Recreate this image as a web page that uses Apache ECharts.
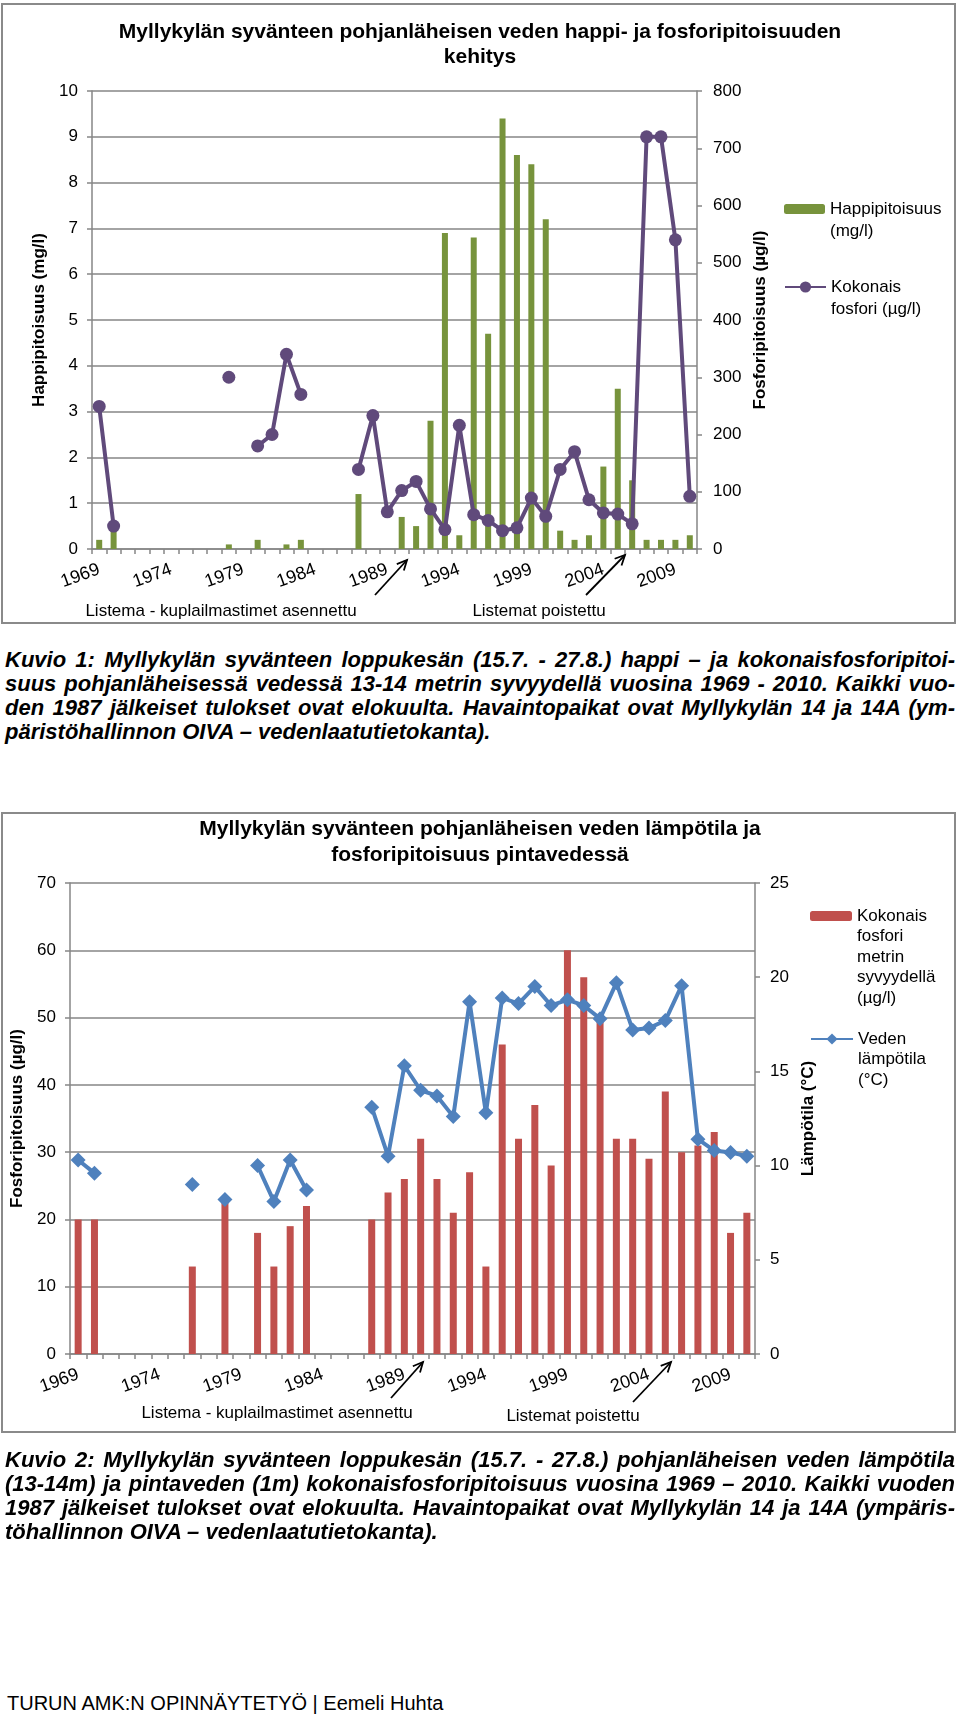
<!DOCTYPE html>
<html><head><meta charset="utf-8">
<script src="https://cdn.jsdelivr.net/npm/echarts@6/dist/echarts.min.js"></script>
<style>
html,body{margin:0;padding:0;background:#fff;}
body{width:960px;height:1715px;position:relative;overflow:hidden;font-family:"Liberation Sans",Arial,sans-serif;}
#c1{position:absolute;left:0;top:0;width:960px;height:640px;}
#c2{position:absolute;left:0;top:790px;width:960px;height:660px;}
.cap{position:absolute;left:5px;width:950px;font-family:"Liberation Sans",Arial,sans-serif;font-weight:bold;font-style:italic;font-size:22px;line-height:24px;color:#000;z-index:2;}
.cap div{text-align:justify;text-align-last:justify;white-space:nowrap;}
.cap div.last{text-align:left;text-align-last:left;}
#foot{position:absolute;left:7px;top:1691px;font-family:"Liberation Sans",Arial,sans-serif;font-size:20px;line-height:24px;color:#000;}
</style></head>
<body>
<div id="c1"></div>
<div id="c2"></div>
<div class="cap" style="top:648px">
<div>Kuvio 1: Myllykylän syvänteen loppukesän (15.7. - 27.8.) happi – ja kokonaisfosforipitoi-</div>
<div>suus pohjanläheisessä vedessä 13-14 metrin syvyydellä vuosina 1969 - 2010. Kaikki vuo-</div>
<div>den 1987 jälkeiset tulokset ovat elokuulta. Havaintopaikat ovat Myllykylän 14 ja 14A (ym-</div>
<div class="last">päristöhallinnon OIVA – vedenlaatutietokanta).</div>
</div>
<div class="cap" style="top:1448px">
<div>Kuvio 2: Myllykylän syvänteen loppukesän (15.7. - 27.8.) pohjanläheisen veden lämpötila</div>
<div>(13-14m) ja pintaveden (1m) kokonaisfosforipitoisuus vuosina 1969 – 2010. Kaikki vuoden</div>
<div>1987 jälkeiset tulokset ovat elokuulta. Havaintopaikat ovat Myllykylän 14 ja 14A (ympäris-</div>
<div class="last">töhallinnon OIVA – vedenlaatutietokanta).</div>
</div>
<div id="foot">TURUN AMK:N OPINNÄYTETYÖ | Eemeli Huhta</div>
<script>
// ---------- DATA ----------
const years = [1969,1970,1971,1972,1973,1974,1975,1976,1977,1978,1979,1980,1981,1982,1983,1984,1985,1986,1987,1988,1989,1990,1991,1992,1993,1994,1995,1996,1997,1998,1999,2000,2001,2002,2003,2004,2005,2006,2007,2008,2009,2010].map(String);

// Chart 1: bottom-water oxygen (mg/l) and total phosphorus (µg/l)
const oxygen = [0.2,0.5,null,null,null,null,null,null,null,0.1,null,0.2,null,0.1,0.2,null,null,null,1.2,null,null,0.7,0.5,2.8,6.9,0.3,6.8,4.7,9.4,8.6,8.4,7.2,0.4,0.2,0.3,1.8,3.5,1.5,0.2,0.2,0.2,0.3];
const phosBottom = [249,40,null,null,null,null,null,null,null,300,null,180,200,340,270,null,null,null,139,233,65,102,118,70,34,216,60,50,32,37,89,57,139,170,86,63,61,44,720,720,540,92];

// Chart 2: surface total phosphorus (µg/l) and bottom-water temperature (°C)
const phosSurface = [20,20,null,null,null,null,null,13,null,23,null,18,13,19,22,null,null,null,20,24,26,32,26,21,27,13,46,32,37,28,60,56,50,32,32,29,39,30,31,33,18,21];
const temperature = [10.3,9.6,null,null,null,null,null,9.0,null,8.2,null,10.0,8.1,10.3,8.7,null,null,null,13.1,10.5,15.3,14.0,13.7,12.6,18.7,12.8,18.9,18.6,19.5,18.5,18.8,18.5,17.8,19.7,17.2,17.3,17.7,19.55,11.4,10.8,10.7,10.5];

const title1 = 'Myllykylän syvänteen pohjanläheisen veden happi- ja fosforipitoisuuden\nkehitys';
const title2 = 'Myllykylän syvänteen pohjanläheisen veden lämpötila ja\nfosforipitoisuus pintavedessä';
const noteLeft = 'Listema - kuplailmastimet asennettu';
const noteRight = 'Listemat poistettu';

// ---------- STYLE ----------
const F = '"Liberation Sans", Arial, sans-serif';
const GRAY = '#868686';

function arrow(x1,y1,x2,y2){
  const ang = Math.atan2(y2-y1, x2-x1), L = 11, a = 0.45;
  return [
    {type:'line', shape:{x1,y1,x2,y2}, style:{stroke:'#000', lineWidth:1.8}},
    {type:'polyline', shape:{points:[[x2-L*Math.cos(ang-a), y2-L*Math.sin(ang-a)],[x2,y2],[x2-L*Math.cos(ang+a), y2-L*Math.sin(ang+a)]]}, style:{stroke:'#000', fill:null, lineWidth:1.8}}
  ];
}
function txt(text,x,y){
  return {type:'text', x, y, style:{text, fill:'#000', font:'17px '+F, align:'center', verticalAlign:'middle'}};
}
function xAxisCfg(){
  return {type:'category', data:years, boundaryGap:true,
    axisLine:{show:true, lineStyle:{color:GRAY, width:1.5}},
    axisTick:{show:true, interval:0, length:5, lineStyle:{color:GRAY, width:1.5}},
    axisLabel:{interval:4, rotate:20, fontSize:18, color:'#000', margin:20, fontFamily:F},
    splitLine:{show:false}};
}
function yCfg(o){
  return Object.assign({type:'value',
    axisLine:{show:true, lineStyle:{color:GRAY, width:1.5}},
    axisTick:{show:true, length:5, lineStyle:{color:GRAY, width:1.5}},
    axisLabel:{fontSize:17, color:'#000', margin:14, fontFamily:F},
    nameLocation:'middle', nameRotate:90,
    nameTextStyle:{fontSize:17, fontWeight:'bold', color:'#000', fontFamily:F}}, o);
}
// legend item whose first text line sits level with the icon: (n-1) empty lines are put before the n text lines
function legendCfg(name, lines, left, iconY, L, iw, ih){
  const n = lines.length;
  const text = '\n'.repeat(n-1) + lines.join('\n');
  return {data:[name], left, top:iconY - (2*n-1)*L/2, padding:0, orient:'vertical', itemWidth:iw, itemHeight:ih, selectedMode:false,
    formatter:()=>text,
    textStyle:{fontSize:17, color:'#000', fontFamily:F, lineHeight:L}};
}

// ---------- CHART 1 ----------
const c1 = echarts.init(document.getElementById('c1'), null, {renderer:'canvas'});
c1.setOption({
  animation:false,
  title:{text:title1, left:'center', top:20, padding:0,
    textStyle:{fontSize:21, fontWeight:'bold', color:'#000', fontFamily:F, lineHeight:25}},
  grid:{left:92, top:91, width:605, height:458, containLabel:false, outerBoundsMode:'none'},
  legend:[
    legendCfg('Happipitoisuus (mg/l)', ['Happipitoisuus','(mg/l)'], 784, 209, 22, 41, 10),
    legendCfg('Kokonais fosfori (µg/l)', ['Kokonais','fosfori (µg/l)'], 784, 287, 22, 41, 14)
  ],
  xAxis:xAxisCfg(),
  yAxis:[
    yCfg({min:0, max:10, interval:1, position:'left', name:'Happipitoisuus (mg/l)', nameGap:42,
      splitLine:{show:true, lineStyle:{color:GRAY, width:1.5}}}),
    yCfg({min:0, max:800, interval:100, position:'right', name:'Fosforipitoisuus (µg/l)', nameGap:52,
      axisLabel:{fontSize:17, color:'#000', margin:16, fontFamily:F},
      splitLine:{show:false}})
  ],
  series:[
    {name:'Happipitoisuus (mg/l)', type:'bar', yAxisIndex:0, data:oxygen, barWidth:6,
      itemStyle:{color:'#77933C'}, legendIcon:'rect', z:2},
    {name:'Kokonais fosfori (µg/l)', type:'line', yAxisIndex:1, data:phosBottom, connectNulls:false,
      symbol:'circle', symbolSize:13, showSymbol:true, showAllSymbol:true,
      lineStyle:{color:'#604A7B', width:4}, itemStyle:{color:'#604A7B'}, z:3}
  ],
  graphic:[
    {type:'rect', shape:{x:2, y:4, width:953, height:619}, style:{stroke:'#8a8a8a', fill:null, lineWidth:2}, silent:true},
    ...arrow(375,595,407,560), ...arrow(586,595,625,555),
    txt(noteLeft,221,611), txt(noteRight,539,611)
  ]
});

// ---------- CHART 2 ----------
const c2 = echarts.init(document.getElementById('c2'), null, {renderer:'canvas'});
c2.setOption({
  animation:false,
  title:{text:title2, left:'center', top:26, padding:0,
    textStyle:{fontSize:21, fontWeight:'bold', color:'#000', fontFamily:F, lineHeight:26}},
  grid:{left:70, top:93, width:685, height:471, containLabel:false, outerBoundsMode:'none'},
  legend:[
    legendCfg('Kokonais fosfori metrin syvyydellä (µg/l)', ['Kokonais','fosfori','metrin','syvyydellä','(µg/l)'], 810, 126, 20.5, 42, 10),
    legendCfg('Veden lämpötila (°C)', ['Veden','lämpötila','(°C)'], 810, 249, 20.5, 42, 14)
  ],
  xAxis:xAxisCfg(),
  yAxis:[
    yCfg({min:0, max:70, interval:10, position:'left', name:'Fosforipitoisuus (µg/l)', nameGap:42,
      splitLine:{show:true, lineStyle:{color:GRAY, width:1.5}}}),
    yCfg({min:0, max:25, interval:5, position:'right', name:'Lämpötila (°C)', nameGap:44,
      axisLabel:{fontSize:17, color:'#000', margin:15, fontFamily:F},
      splitLine:{show:false}})
  ],
  series:[
    {name:'Kokonais fosfori metrin syvyydellä (µg/l)', type:'bar', yAxisIndex:0, data:phosSurface, barWidth:7,
      itemStyle:{color:'#C0504D'}, legendIcon:'rect', z:2},
    {name:'Veden lämpötila (°C)', type:'line', yAxisIndex:1, data:temperature, connectNulls:false,
      symbol:'diamond', symbolSize:15, showSymbol:true, showAllSymbol:true,
      lineStyle:{color:'#4F81BD', width:4}, itemStyle:{color:'#4F81BD'}, z:3}
  ],
  graphic:[
    {type:'rect', shape:{x:2, y:23, width:953, height:619}, style:{stroke:'#8a8a8a', fill:null, lineWidth:2}, silent:true},
    ...arrow(391,608,423,572), ...arrow(633,612,671,572),
    txt(noteLeft,277,623), txt(noteRight,573,626)
  ]
});
</script>
</body></html>
